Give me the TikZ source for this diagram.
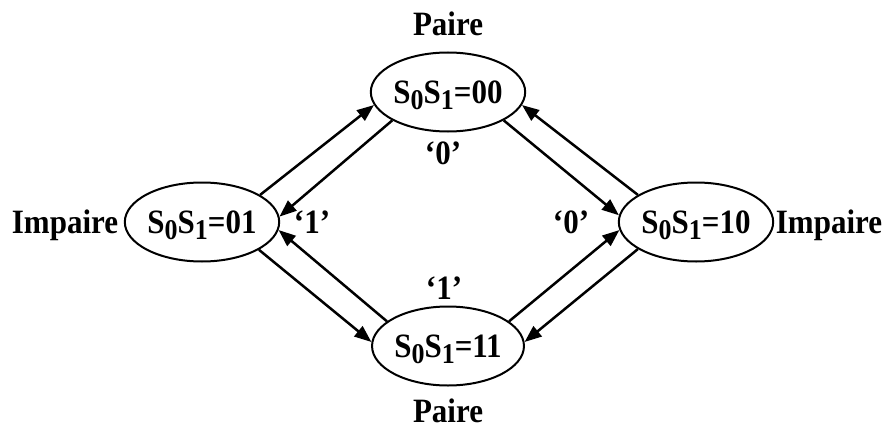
\documentclass[tikz,border=0pt]{standalone}
\usepackage{fontspec}
\setmainfont{Liberation Serif}
\usetikzlibrary{shapes.geometric,arrows.meta}
\newcommand{\sub}[1]{\raisebox{-6pt}{\fontsize{26}{26}\selectfont #1}}
\newcommand{\tall}[1]{\scalebox{1}[1.1]{#1}}
\begin{document}
\begin{tikzpicture}[x=1pt,y=-1pt,
  state/.style={draw, ellipse, line width=2pt, minimum width=148pt, minimum height=79pt,
    inner sep=0pt, text height=22pt, text depth=0pt, font=\fontsize{31}{36}\selectfont\bfseries},
  lbl/.style={anchor=base, inner sep=0pt, font=\fontsize{31}{36}\selectfont\bfseries},
  arr/.style={line width=2.5pt, -{Triangle[length=17pt,width=13pt]}}]
\useasboundingbox (0,0) rectangle (888,428);
\node[state] (L) at (202,222) {\tall{S\sub{0}S\sub{1}=01}};
\node[state] (T) at (448,92) {\tall{S\sub{0}S\sub{1}=00}};
\node[state] (B) at (448,346) {\tall{S\sub{0}S\sub{1}=11}};
\node[state] (R) at (696,222) {\tall{S\sub{0}S\sub{1}=10}};
\node[lbl] (pt) at (448,36) {\tall{Paire}};
\node[lbl] (pb) at (448,422) {\tall{Paire}};
\node[lbl] (il) at (65,233) {\tall{Impaire}};
\node[lbl] (ir) at (829,233) {\tall{Impaire}};
\node[lbl] (zt) at (443,164) {\tall{`0'}};
\node[lbl] (ol) at (312,233) {\tall{`1'}};
\node[lbl] (zr) at (571,233) {\tall{`0'}};
\node[lbl] (ob) at (444,299) {\tall{`1'}};
\draw[arr] (L.25.7) -- (T.190);
\draw[arr] (T.207.3) -- (L.4);
\draw[arr] (T.-27.7) -- (R.175);
\draw[arr] (R.155.4) -- (T.-10);
\draw[arr] (L.-26.6) -- (B.177);
\draw[arr] (B.158) -- (L.-6);
\draw[arr] (B.22) -- (R.186);
\draw[arr] (R.205.8) -- (B.3);
\end{tikzpicture}
\end{document}
